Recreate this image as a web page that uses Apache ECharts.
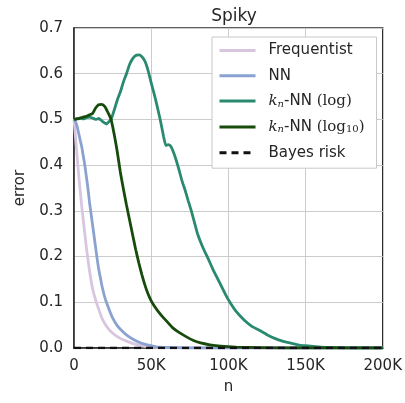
<!DOCTYPE html>
<html>
<head>
<meta charset="utf-8">
<script src="https://cdn.jsdelivr.net/npm/echarts@6/dist/echarts.min.js"></script>
<style>
html,body{margin:0;padding:0;background:#fff;}
#c{width:405px;height:403px;}
</style>
</head>
<body>
<div id="c"></div>
<script>
// n values in thousands, error values
var freqN   = [0, 1, 2, 3, 4, 5, 6, 7, 8, 9, 10, 12, 14, 16, 18, 20, 23, 26, 30, 34, 40, 47, 55, 70, 200];
var freqErr = [0.5, 0.46, 0.42, 0.38, 0.345, 0.31, 0.28, 0.25, 0.22, 0.195, 0.17, 0.13, 0.105, 0.085, 0.066, 0.053, 0.039, 0.03, 0.021, 0.015, 0.008, 0.003, 0.001, 0, 0];

var nnN   = [0, 1, 2, 3, 4, 5, 6, 7, 8, 9, 10, 11, 12, 13, 14, 15, 16, 17, 18, 19, 20, 21, 23, 25, 28, 31, 35, 40, 45, 50, 55, 65, 80, 200];
var nnErr = [0.5, 0.495, 0.485, 0.47, 0.455, 0.44, 0.42, 0.4, 0.375, 0.35, 0.32, 0.295, 0.27, 0.245, 0.22, 0.195, 0.173, 0.155, 0.138, 0.123, 0.11, 0.1, 0.082, 0.066, 0.049, 0.038, 0.026, 0.016, 0.009, 0.005, 0.002, 0.001, 0, 0];

var logN   = [0, 2, 4, 6, 8, 10, 12, 14, 16, 18, 20, 21, 22, 24, 26, 28, 30, 32, 34, 36, 38, 40, 42, 44, 46, 48, 50, 52, 54, 56, 58, 59.5, 61, 62.5, 64, 66, 68, 70, 72, 74, 76, 78, 80, 82, 84, 86, 90, 94, 98, 101, 105, 110, 115, 120, 125, 130, 135, 140, 145, 150, 160, 170, 180, 200];
var logErr = [0.5, 0.502, 0.503, 0.501, 0.504, 0.505, 0.503, 0.5, 0.502, 0.497, 0.492, 0.49, 0.493, 0.5, 0.52, 0.542, 0.56, 0.582, 0.6, 0.62, 0.633, 0.64, 0.641, 0.637, 0.627, 0.607, 0.58, 0.555, 0.527, 0.497, 0.463, 0.443, 0.445, 0.442, 0.432, 0.413, 0.39, 0.365, 0.345, 0.322, 0.3, 0.275, 0.25, 0.232, 0.216, 0.202, 0.172, 0.145, 0.118, 0.1, 0.08, 0.062, 0.048, 0.039, 0.029, 0.021, 0.015, 0.011, 0.007, 0.005, 0.002, 0.001, 0, 0];

var log10N   = [0, 2, 4, 6, 8, 10, 12, 14, 16, 18, 20, 22, 24, 26, 28, 30, 32, 34, 36, 38, 40, 42, 44, 46, 48, 50, 52, 55, 58, 61, 64, 68, 72, 77, 82, 88, 95, 105, 120, 140, 200];
var log10Err = [0.5, 0.501, 0.503, 0.505, 0.507, 0.51, 0.513, 0.525, 0.532, 0.533, 0.528, 0.515, 0.5, 0.468, 0.43, 0.385, 0.348, 0.313, 0.28, 0.247, 0.215, 0.186, 0.16, 0.137, 0.118, 0.103, 0.092, 0.078, 0.066, 0.055, 0.044, 0.034, 0.026, 0.017, 0.011, 0.007, 0.004, 0.002, 0.001, 0, 0];

var bayesN   = [0, 200];
var bayesErr = [0, 0];

var seriesNames = ['Frequentist', 'NN', 'kn-NN (log)', 'kn-NN (log10)', 'Bayes risk'];
var colors = ['#d8c6e1', '#8aa2cf', '#2a8a70', '#164b0b', '#111111'];

function pairs(ns, es) {
  return ns.map(function (n, i) { return [n * 1000, es[i]]; });
}

var chart = echarts.init(document.getElementById('c'), null, {renderer: 'canvas'});
var txt = '#262626';
var font = 'DejaVu Sans';

function lineSeries(idx, ns, es, extra) {
  var s = {
    name: seriesNames[idx],
    type: 'line',
    data: pairs(ns, es),
    showSymbol: false,
    symbol: 'none',
    smooth: 0.25,
    lineStyle: {color: colors[idx], width: 2.8},
    itemStyle: {color: colors[idx]},
    z: 2 + idx,
    animation: false
  };
  if (extra) { for (var k in extra) s[k] = extra[k]; }
  return s;
}

var option = {
  animation: false,
  backgroundColor: '#ffffff',
  title: {
    text: 'Spiky', left: 229, top: 3, textAlign: 'center',
    textStyle: {fontSize: 17, fontWeight: 'normal', color: txt, fontFamily: font}
  },
  grid: {left: 74, right: 21, top: 28, bottom: 55, show: true, borderColor: '#2a2a2a', borderWidth: 1.5, backgroundColor: 'transparent'},
  legend: {
    orient: 'vertical', left: 212, top: 37,
    padding: [6, 12, 8, 6],
    itemGap: 10.3,
    itemWidth: 36, itemHeight: 15,
    backgroundColor: '#ffffff', borderColor: '#c8c8c8', borderWidth: 1, borderRadius: 0,
    data: seriesNames,
    lineStyle: {width: 3},
    itemStyle: {opacity: 0},
    textStyle: {
      fontSize: 15, color: txt, fontFamily: font, padding: [0, 0, 0, 8],
      rich: {
        it: {fontFamily: 'DejaVu Serif', fontStyle: 'italic', fontSize: 15, color: txt},
        sub: {fontFamily: 'DejaVu Serif', fontStyle: 'italic', fontSize: 10, color: txt, verticalAlign: 'bottom', padding: [6, 0, 0, 0]},
        subr: {fontFamily: 'DejaVu Serif', fontSize: 10, color: txt, verticalAlign: 'bottom', padding: [6, 0, 0, 0]},
        rm: {fontFamily: 'DejaVu Serif', fontSize: 15, color: txt},
        t: {fontFamily: font, fontSize: 15, color: txt}
      }
    },
    formatter: function (name) {
      if (name === 'kn-NN (log)') return '{it|k}{sub|n}{t|-NN }{rm|(log)}';
      if (name === 'kn-NN (log10)') return '{it|k}{sub|n}{t|-NN }{rm|(log}{subr|10}{rm|)}';
      return name;
    }
  },
  xAxis: {
    type: 'value', min: 0, max: 200000, interval: 50000,
    name: 'n', nameLocation: 'middle', nameGap: 32,
    nameTextStyle: {fontSize: 15, color: txt, fontFamily: font},
    axisLine: {show: true, lineStyle: {color: '#2a2a2a', width: 1.5}},
    axisTick: {show: false},
    splitLine: {show: true, lineStyle: {color: '#cccccc', width: 1}},
    axisLabel: {
      fontSize: 15, color: txt, fontFamily: font, margin: 11,
      formatter: function (v) { return v === 0 ? '0' : (v / 1000) + 'K'; }
    }
  },
  yAxis: {
    type: 'value', min: 0, max: 0.7, interval: 0.1,
    name: 'error', nameLocation: 'middle', nameGap: 46,
    nameTextStyle: {fontSize: 15, color: txt, fontFamily: font},
    axisLine: {show: true, lineStyle: {color: '#2a2a2a', width: 1.5}},
    axisTick: {show: false},
    splitLine: {show: true, lineStyle: {color: '#cccccc', width: 1}},
    axisLabel: {
      fontSize: 15, color: txt, fontFamily: font, margin: 11,
      formatter: function (v) { return v.toFixed(1); }
    }
  },
  series: [
    lineSeries(0, freqN, freqErr),
    lineSeries(1, nnN, nnErr),
    lineSeries(2, logN, logErr, {smooth: 0.15}),
    lineSeries(3, log10N, log10Err, {smooth: 0.2}),
    lineSeries(4, bayesN, bayesErr, {smooth: false, lineStyle: {color: colors[4], width: 2.5, type: [7, 5]}})
  ]
};
chart.setOption(option);
</script>
</body>
</html>
